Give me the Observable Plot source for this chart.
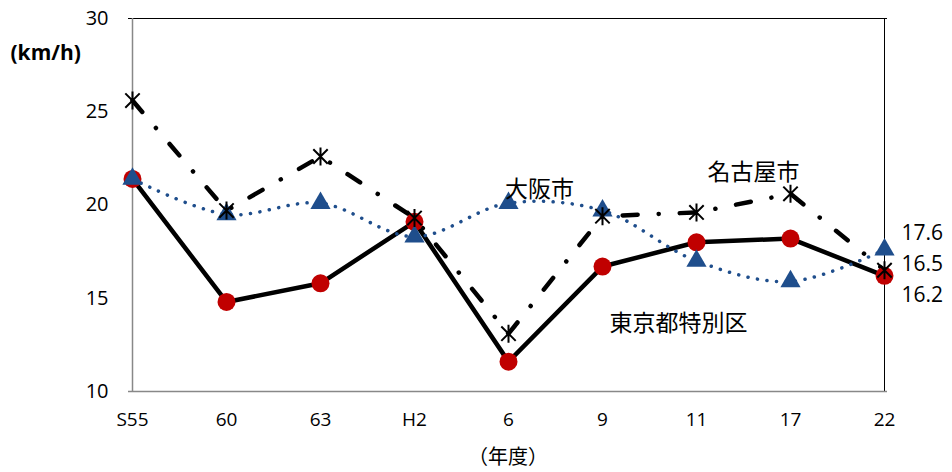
<!DOCTYPE html>
<html><head><meta charset="utf-8">
<script src="https://cdn.jsdelivr.net/npm/d3@7"></script>
<script src="https://cdn.jsdelivr.net/npm/@observablehq/plot@0.6"></script>
<style>
body{margin:0;background:#fff}
#chart svg{font-family:"Open Sans","Noto Sans CJK JP",sans-serif}
</style>
</head><body><div id="chart"></div>
<script>
const years = ["S55","60","63","H2","6","9","11","17","22"];
const tokyo = [21.4,14.8,15.8,19.1,11.6,16.7,18.0,18.2,16.2];
const osaka = [21.4,19.5,20.1,18.3,20.1,19.7,17.0,15.9,17.6];
const nagoya = [25.6,19.7,22.6,19.3,13.1,19.4,19.6,20.6,16.5];
const yTicks = [10,15,20,25,30];
const names = {tokyo:"東京都特別区", osaka:"大阪市", nagoya:"名古屋市"};
const unitLabel = "(km/h)";
const xLabel = "（年度）";

const rows = s => years.map((y,i)=>({year:y, v:s[i]}));
const T = rows(tokyo), O = rows(osaka), N = rows(nagoya);
const last = a => [a[a.length-1]];

const blue = "#1F4E8C";
const red = "#C00000";
const ff = '"Open Sans","Noto Sans CJK JP",sans-serif';
const jf = '"Noto Sans CJK JP",sans-serif';

// Excel-style asterisk: vertical stroke plus an X
const excelStar = {
  draw(ctx, size) {
    const r = Math.sqrt(size / Math.PI);
    const d = r * 0.8;
    ctx.moveTo(0, -r); ctx.lineTo(0, r);
    ctx.moveTo(-d, -d); ctx.lineTo(d, d);
    ctx.moveTo(-d, d); ctx.lineTo(d, -d);
  }
};

const chart = Plot.plot({
  width: 952, height: 472,
  marginLeft: 128, marginRight: 65, marginTop: 18, marginBottom: 81,
  style: {fontFamily: ff, background:"#fff", overflow:"visible"},
  x: {type:"point", domain: years, padding: 0},
  y: {domain:[10,30]},
  marks: [
    Plot.ruleY([yTicks[yTicks.length-1]], {stroke:"#000", strokeWidth:1}),
    Plot.ruleX([years[years.length-1]], {stroke:"#000", strokeWidth:1}),
    Plot.ruleX([years[0]], {stroke:"#888", strokeWidth:1.5}),
    Plot.ruleY([yTicks[0]], {stroke:"#888", strokeWidth:1.5}),
    Plot.axisX({tickSize:0, tickPadding:21, fontSize:19, label: null}),
    Plot.axisX({ticks:[], tickSize:0, fontSize:20, fontFamily: jf, label: xLabel, labelAnchor:"center", labelOffset:72, labelArrow:"none"}),
    Plot.axisY({ticks:yTicks, tickSize:0, tickPadding:20, fontSize:20, label:null}),
    // Tokyo
    Plot.line(T, {x:"year", y:"v", stroke:"#000", strokeWidth:4.5}),
    // Osaka
    Plot.line(O, {x:"year", y:"v", stroke:blue, strokeWidth:3.5, strokeDasharray:"0.1,9.5", strokeLinecap:"round", curve:"catmull-rom"}),
    // Nagoya
    Plot.line(N, {x:"year", y:"v", stroke:"#000", strokeWidth:4.5, strokeDasharray:"15,21,0.1,21", strokeLinecap:"round"}),
    Plot.dot(T, {x:"year", y:"v", r:9, fill:red, stroke:null}),
    Plot.dot(O, {x:"year", y:"v", r:7.5, symbol:"triangle", fill:blue, stroke:null}),
    Plot.dot(N, {x:"year", y:"v", r:9, symbol:excelStar, fill:"none", stroke:"#000", strokeWidth:2}),
    // series labels
    Plot.text([O[4]], {x:"year", y:"v", text:()=>names.osaka, dx:31, dy:-14, fontSize:23, fontFamily: jf, fill:"#000"}),
    Plot.text([N[7]], {x:"year", y:"v", text:()=>names.nagoya, dx:-37, dy:-21, fontSize:23, fontFamily: jf, fill:"#000"}),
    Plot.text([T[5]], {x:"year", y:"v", text:()=>names.tokyo, dx:76, dy:57, fontSize:23, fontFamily: jf, fill:"#000"}),
    // end values
    Plot.text(last(O), {x:"year", y:"v", text:d=>d.v.toFixed(1), dx:17, dy:-16, textAnchor:"start", fontSize:21, fill:"#000"}),
    Plot.text(last(N), {x:"year", y:"v", text:d=>d.v.toFixed(1), dx:17, dy:-6, textAnchor:"start", fontSize:21, fill:"#000"}),
    Plot.text(last(T), {x:"year", y:"v", text:d=>d.v.toFixed(1), dx:17, dy:19, textAnchor:"start", fontSize:21, fill:"#000"}),
    // unit label
    Plot.text([unitLabel], {frameAnchor:"top-left", text:d=>d, dx:-118, dy:27, textAnchor:"start", fontSize:21, fontWeight:"bold", fill:"#000"})
  ]
});
document.getElementById("chart").append(chart);
</script>
</body></html>
